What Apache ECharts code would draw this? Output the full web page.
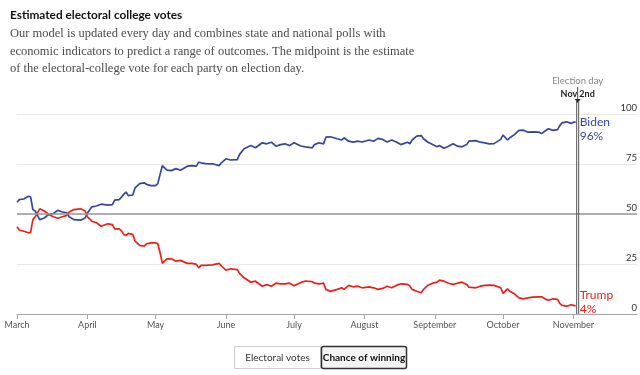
<!DOCTYPE html>
<html>
<head>
<meta charset="utf-8">
<script src="https://cdn.jsdelivr.net/npm/echarts@6/dist/echarts.min.js"></script>
<style>
html, body { margin: 0; padding: 0; background: #fff; }
#chart { width: 640px; height: 375px; }
</style>
</head>
<body>
<div id="chart"></div>
<script>
// days counted from March 1st 2020
const dayOffsets = [
  0, 1, 3, 5, 6, 7, 8, 10, 12, 14,
  16, 18, 20, 22, 23, 25, 28, 30, 31, 33,
  35, 37, 40, 42, 43, 45, 46, 47, 48, 49,
  51, 52, 54, 56, 57, 59, 61, 62, 63, 64,
  66, 68, 70, 72, 75, 77, 79, 80, 81, 83,
  86, 89, 90, 92, 94, 97, 98, 100, 103, 105,
  108, 110, 112, 114, 116, 118, 120, 122, 125, 127,
  130, 131, 133, 135, 136, 138, 141, 143, 144, 146,
  148, 150, 152, 155, 157, 159, 161, 163, 165, 167,
  169, 172, 173, 174, 176, 178, 179, 181, 183, 185,
  186, 188, 190, 192, 194, 196, 198, 199, 202, 204,
  206, 208, 210, 213, 214, 216, 217, 219, 221, 223,
  225, 227, 230, 231, 233, 234, 236, 238, 239, 240,
  242, 244, 245, 246
];
const bidenChance = [
  55.9, 57.2, 57.5, 58.9, 58.5, 52.2, 51.5, 47.2, 48, 49.8,
  50.2, 51.9, 51, 50.6, 48.6, 47.2, 46.9, 48, 50.5, 53.6,
  54, 54.9, 54.4, 54.7, 56.9, 57.2, 58.4, 59.8, 61, 59.2,
  59.5, 63.1, 65.2, 65.6, 64.8, 64.2, 64.2, 65.2, 69.8, 74.2,
  71.9, 71.7, 72.7, 71.9, 73.9, 74.2, 73.9, 75.9, 75.6, 75.2,
  75.1, 74.2, 75.6, 77.6, 77, 77.2, 79.8, 82.6, 84.2, 83.1,
  85.6, 85.1, 85.9, 83.9, 84.7, 85.1, 84.2, 85.6, 84, 83.6,
  83.1, 84.7, 85.6, 85.1, 88.4, 88.6, 87.6, 87, 88.1, 86.4,
  85.9, 86.4, 86, 87, 86.4, 87.8, 87.3, 86, 87, 86,
  84.7, 85.9, 85.1, 87, 88.9, 89.2, 87.6, 85.9, 84.7, 83.6,
  84.2, 82.9, 83.9, 85.1, 83.9, 83.6, 84.7, 86.4, 86.7, 85.9,
  85.6, 85.1, 85.2, 87.3, 89.4, 87, 88.1, 89.7, 91.8, 91.9,
  90.9, 91.1, 90.9, 90.2, 91.9, 92.6, 91.8, 92.2, 94.2, 95.6,
  96.1, 95.3, 95.9, 96
];
const trumpChance = [
  43.6, 42, 41.4, 40.6, 40.8, 47.2, 48.6, 52.6, 51.5, 49.8,
  48.6, 47.9, 48.6, 49.3, 51, 52.2, 52.6, 51.5, 48.6, 46.4,
  45.6, 43.9, 45.1, 44.7, 42.6, 42.6, 41.5, 39.8, 39.2, 40.3,
  39.8, 36.4, 34.3, 33.9, 35.1, 35.6, 35.6, 35.1, 30.6, 25.3,
  27.6, 27.6, 26.4, 26.8, 25.3, 25.3, 24.8, 23.1, 24.3, 24.3,
  24.6, 25.3, 24, 21.9, 22.6, 22.2, 20.3, 18.1, 15.9, 16.4,
  13.9, 14.7, 13.9, 15.4, 15.1, 15.1, 15.4, 14.1, 15.8, 16.5,
  16.2, 15.4, 15.1, 15.4, 12.3, 11.3, 12.3, 13.1, 12.3, 14.3,
  13.6, 13.9, 13.1, 13.6, 13.1, 12.3, 12.8, 13.9, 13.1, 14.3,
  15.1, 14.8, 13.9, 12.3, 11.4, 10.6, 12.3, 14.4, 15.4, 15.9,
  16.9, 16.4, 15.4, 14.8, 15.4, 15.9, 14.8, 13.4, 13.1, 13.9,
  14.3, 14.4, 14.3, 13.1, 10.3, 12.6, 11.4, 10.1, 8.1, 7.6,
  8.1, 8.4, 8.6, 8.6, 7.3, 6.9, 7.6, 7.3, 5.3, 4.3,
  3.9, 4.6, 4.3, 4
];
const monthStarts = [0, 31, 61, 92, 122, 153, 184, 214, 245];
const monthNames = ['March', 'April', 'May', 'June', 'July', 'August', 'September', 'October', 'November'];
const electionDay = 246;
const lastDay = 273;

const sans = 'Lato, "Noto Sans", sans-serif';
const blue = '#36469a';
const red = '#e8221b';

const chart = echarts.init(document.getElementById('chart'));

const option = {
  animation: false,
  title: {
    left: 5,
    top: 2,
    itemGap: 2,
    text: 'Estimated electoral college votes',
    textStyle: { fontFamily: sans, fontSize: 11.8, fontWeight: 'bold', color: '#121212', lineHeight: 16 },
    subtext: 'Our model is updated every day and combines state and national polls with\n' +
      'economic indicators to predict a range of outcomes. The midpoint is the estimate\n' +
      'of the electoral-college vote for each party on election day.',
    subtextStyle: { fontFamily: '"Liberation Serif", serif', fontSize: 12.5, color: '#4d4d4d', lineHeight: 17.5 }
  },
  grid: { left: 17, right: 3, top: 114, bottom: 61 },
  xAxis: {
    type: 'value',
    min: 0,
    max: lastDay,
    splitLine: { show: false },
    axisLine: { lineStyle: { color: '#a6a6a6', width: 1 } },
    axisTick: { show: true, customValues: monthStarts, length: 5, lineStyle: { color: '#a6a6a6' } },
    axisLabel: {
      customValues: monthStarts,
      formatter: v => monthNames[monthStarts.indexOf(v)],
      color: '#555', fontSize: 9, fontFamily: sans, margin: 7
    }
  },
  yAxis: {
    type: 'value',
    position: 'right',
    min: 0,
    max: 100,
    interval: 25,
    axisLine: { show: false },
    axisTick: { show: false },
    splitLine: { lineStyle: { color: '#e9e9e9', width: 1 } },
    axisLabel: { inside: true, margin: 0, verticalAlign: 'bottom', color: '#333', fontSize: 9.5, fontFamily: sans, padding: [0, 0, 1, 0] }
  },
  series: [
    {
      name: 'Biden',
      type: 'line',
      data: dayOffsets.map((d, i) => [d, bidenChance[i]]),
      showSymbol: false,
      lineStyle: { color: blue, width: 1.7 },
      itemStyle: { color: blue },
      z: 3,
      endLabel: {
        show: true,
        formatter: p => 'Biden\n' + Math.round(p.value[1]) + '%',
        color: blue, fontSize: 12, lineHeight: 14, fontFamily: sans,
        distance: 4, offset: [0, 7]
      },
      markLine: {
        silent: true,
        symbol: 'none',
        label: { show: false },
        lineStyle: { color: '#999', width: 1.5, type: 'solid' },
        data: [{ yAxis: 50 }]
      }
    },
    {
      name: 'Trump',
      type: 'line',
      data: dayOffsets.map((d, i) => [d, trumpChance[i]]),
      showSymbol: false,
      lineStyle: { color: red, width: 1.7 },
      itemStyle: { color: red },
      z: 3,
      endLabel: {
        show: true,
        formatter: p => 'Trump\n' + Math.round(p.value[1]) + '%',
        color: red, fontSize: 12, lineHeight: 14, fontFamily: sans,
        distance: 4, offset: [0, -4]
      }
    }
  ]
};
chart.setOption(option);

// election day marker, placed with the chart's own scale
const markHigh = chart.convertToPixel({ gridIndex: 0 }, [electionDay, 100]);
const markLow = chart.convertToPixel({ gridIndex: 0 }, [electionDay, 0]);
const ex = markHigh[0] + 2;
const markTop = markHigh[1] - 14;

chart.setOption({
  graphic: [
    { type: 'text', x: ex, y: markTop - 19, style: { text: 'Election day', fill: '#888', font: '9.5px ' + sans, align: 'center', verticalAlign: 'middle' } },
    { type: 'line', shape: { x1: ex, y1: markTop - 13, x2: ex, y2: markTop }, style: { stroke: '#444', lineWidth: 1 } },
    { type: 'text', x: ex, y: markTop - 6, style: { text: 'Nov 2nd', fill: '#222', font: 'bold 9px ' + sans, align: 'center', verticalAlign: 'middle' } },
    { type: 'polygon', shape: { points: [[ex - 3, markTop - 1], [ex + 3, markTop - 1], [ex, markTop + 3]] }, style: { fill: '#222' } },
    { type: 'line', shape: { x1: ex - 1, y1: markTop, x2: ex - 1, y2: markLow[1] }, style: { stroke: '#555', lineWidth: 1 }, z: 10 },
    { type: 'line', shape: { x1: ex + 1, y1: markTop, x2: ex + 1, y2: markLow[1] }, style: { stroke: '#555', lineWidth: 1 }, z: 10 },

    // toggle buttons under the chart
    { type: 'rect', shape: { x: 234.5, y: 346.5, width: 86, height: 22 }, style: { fill: '#fff', stroke: '#ccc', lineWidth: 1 } },
    { type: 'text', x: 277.5, y: 357.5, style: { text: 'Electoral votes', fill: '#333', font: '10px ' + sans, align: 'center', verticalAlign: 'middle' } },
    { type: 'rect', shape: { x: 321.5, y: 346.5, width: 85, height: 22, r: 2 }, style: { fill: '#f3f3f3', stroke: '#333', lineWidth: 1.5 } },
    { type: 'text', x: 364, y: 357.5, style: { text: 'Chance of winning', fill: '#121212', font: 'bold 10px ' + sans, align: 'center', verticalAlign: 'middle' } }
  ]
});
</script>
</body>
</html>
